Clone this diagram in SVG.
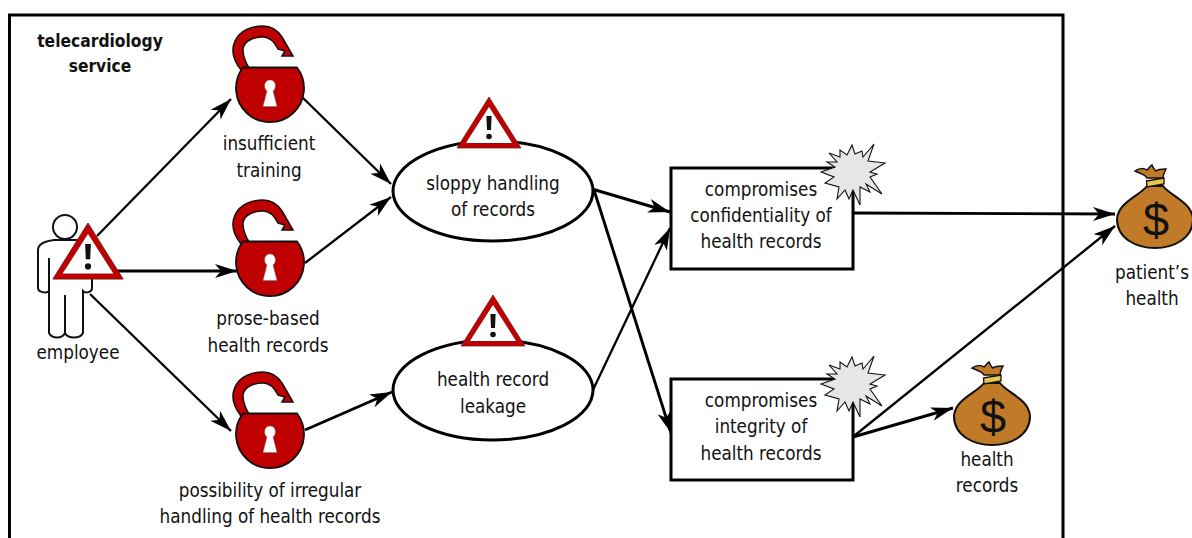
<svg xmlns="http://www.w3.org/2000/svg" width="1192" height="538" viewBox="0 0 1192 538">
<style>
text{font-family:"DejaVu Sans Condensed","DejaVu Sans",sans-serif;font-size:18.7px;fill:#111;text-anchor:middle}
.b{font-weight:bold;font-size:17.3px}
.c{fill:none;stroke:#000;stroke-width:2.3;marker-end:url(#a)}
.t{stroke-width:2.9}
.n{fill:#fff;stroke:#000;stroke-width:3}
</style>
<defs>
<marker id="a" markerUnits="userSpaceOnUse" markerWidth="24" markerHeight="18" refX="22" refY="9" orient="auto"><path d="M0,2 L22,9 L0,16 L6,9Z" fill="#000"/></marker>
<g id="lock">
<path d="M-29,-18 C-37,-28 -39,-38 -35,-47 C-30,-58 -18,-62 -7,-62 C3,-62 8,-57 12,-51 L23,-32 L12,-32 L15,-37 L8,-39 C4,-47 -2,-51 -7,-51 C-18,-51 -27,-46 -27,-38 C-27,-31 -24,-25 -21,-20Z" fill="#c00000" stroke="#111" stroke-width="1.5"/>
<path d="M-27,-20.5 H27 A34,34 0 1 1 -27,-20.5Z" fill="#c00000" stroke="#111" stroke-width="1.8"/>
<path d="M-3,3 C-7,0 -6,-8 0,-8 C6,-8 7,0 3,3 L7,18.5 H-7Z" fill="#fff" stroke="#777" stroke-width=".5"/>
</g>
<g id="warn">
<path d="M0,0 L32,51 H-32Z M0,10 L-23,46 H23Z" fill="#c00000" fill-rule="evenodd" stroke="#6b2020" stroke-width=".8"/>
<path d="M0,10 L23,46 H-23Z" fill="#fff"/>
<path d="M-2.6,19 H2.6 L2,33 H-2Z" fill="#111"/><circle cy="39.5" r="2.8" fill="#111"/>
</g>
<g id="boom"><path d="M-23,-19 L-12,-15 L-12,-22 L-5,-17 L0,-27 L3,-18 L10,-21 L11,-15 L22,-28 L16,-11 L33,-9 L18,0 L25,2 L18,5 L30,22 L14,12 L18,20 L8,15 L8,33 L1,18 L-3,27 L-7,18 L-15,27 L-13,15 L-27,11 L-18,5 L-31,0 L-17,-5 L-25,-10 L-15,-10Z" fill="#e6e6e6" stroke="#111" stroke-width="1.1" stroke-linejoin="miter"/></g>
<g id="bag">
<path d="M-8,-29 C-10,-33 -14,-33 -20,-36 C-16,-39 -11,-39 -8,-37 C-6,-39 -5,-41 -3,-42 C-2,-40 -1,-37 1,-36 C3,-38 7,-38 11,-38 C9,-34 8,-31 8,-29Z" fill="#c07a28" stroke="#111" stroke-width="1.5"/>
<path d="M-8,-21 C-14,-12 -37,-5 -38,12 C-38,32 -18,41 0,41 C18,41 38,32 38,12 C37,-5 14,-12 8,-21Z" fill="#c07a28" stroke="#111" stroke-width="2"/>
<path d="M-8.5,-26 L9,-29 L9,-23 L-8,-20Z" fill="#e8c84a" stroke="#111" stroke-width="1.3"/>
<text y="29" x="1" style="font-family:'Liberation Sans',sans-serif;font-size:47px">$</text>
</g>
</defs>
<g id="frame"><path d="M9.5,538 V15 H1063 V538" fill="none" stroke="#000" stroke-width="3"/></g>
<text class="b" x="100" y="47">telecardiology</text>
<text class="b" x="100" y="72">service</text>
<g id="connectors">
<path class="c" d="M97,236 L231,99"/>
<path class="c t" d="M116,271 L237,271"/>
<path class="c" d="M90,294 L231,431"/>
<path class="c" d="M302,97 L391,184"/>
<path class="c" d="M305,263 L391,197"/>
<path class="c t" d="M305,430 L392,392"/>
<path class="c t" d="M592,189 L670,212"/>
<path class="c t" d="M594,190 L671,433"/>
<path class="c" d="M592,392 L670,228"/>
<path class="c t" d="M853,213 L1115,214"/>
<path class="c" d="M854,436 L1115,226"/>
<path class="c t" d="M853,437 L953,408"/>
</g>
<g id="employee">
<circle cx="65" cy="227" r="12" fill="#fff" stroke="#111" stroke-width="2"/>
<path d="M54,240 C46,241 38,243 38,250 V288 C38,292 46,294 49,291 V333 C52,339 62,339 65,333 C68,339 80,339 83,333 V291 C86,294 92,292 92,288 V250 C92,243 84,241 76,240Z" fill="#fff" stroke="#111" stroke-width="2"/>
<path d="M49,258 V291 M65,295 V333" fill="none" stroke="#111" stroke-width="2"/>
<use href="#warn" transform="translate(88,223) scale(1.1)"/>
<text x="78" y="359">employee</text>
</g>
<g id="lock1"><use href="#lock" x="270" y="88"/><text x="269" y="150">insufficient</text><text x="269" y="177">training</text></g>
<g id="lock2"><use href="#lock" x="270" y="262"/><text x="268" y="325">prose-based</text><text x="268" y="352">health records</text></g>
<g id="lock3"><use href="#lock" x="270" y="434"/><text x="270" y="497">possibility of irregular</text><text x="270" y="523">handling of health records</text></g>
<g id="sloppy"><ellipse class="n" cx="493" cy="191" rx="100" ry="50"/><use href="#warn" x="489" y="97"/><text x="493" y="190">sloppy handling</text><text x="493" y="216">of records</text></g>
<g id="leakage"><ellipse class="n" cx="493" cy="390" rx="100" ry="50"/><use href="#warn" x="493" y="295"/><text x="493" y="386">health record</text><text x="493" y="413">leakage</text></g>
<g id="conf"><rect class="n" x="671" y="168" width="182" height="101"/><use href="#boom" x="852" y="172"/><text x="761" y="196">compromises</text><text x="761" y="222">confidentiality of</text><text x="761" y="248">health records</text></g>
<g id="integ"><rect class="n" x="671" y="379" width="182" height="101"/><use href="#boom" x="852" y="384"/><text x="761" y="407">compromises</text><text x="761" y="433">integrity of</text><text x="761" y="460">health records</text></g>
<g id="bag1"><use href="#bag" x="1155" y="207"/><text x="1152" y="279">patient’s</text><text x="1152" y="305">health</text></g>
<g id="bag2"><use href="#bag" x="992" y="404"/><text x="987" y="466">health</text><text x="987" y="492">records</text></g>
</svg>
